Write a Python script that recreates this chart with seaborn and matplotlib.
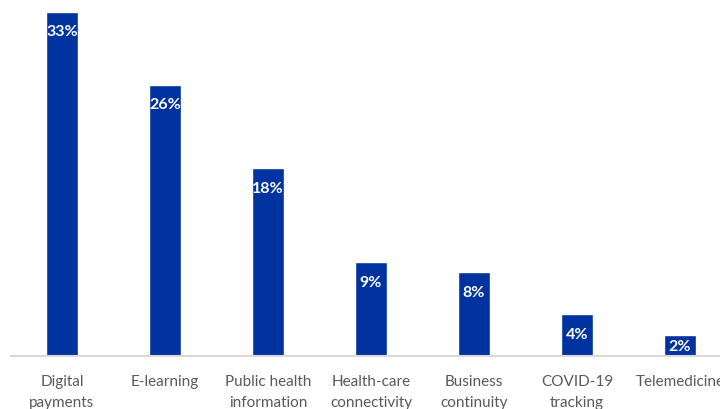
import matplotlib
matplotlib.use("Agg")
import matplotlib.pyplot as plt
import seaborn as sns
import pandas as pd

categories = ["Digital\npayments", "E-learning", "Public health\ninformation",
              "Health-care\nconnectivity", "Business\ncontinuity",
              "COVID-19\ntracking", "Telemedicine"]
shares = [33, 26, 18, 9, 8, 4, 2]

sns.set_theme(style="white")
plt.rcParams["font.family"] = ["Lato", "DejaVu Sans"]

df = pd.DataFrame({"category": categories, "share": shares})

fig = plt.figure(figsize=(7.2, 4.1), dpi=100)
ax = fig.add_axes([10.5 / 720, 53 / 410, 721 / 720, 357 / 410])

sns.barplot(data=df, x="category", y="share", color="#0033A0",
            saturation=1, width=0.31, ax=ax)

ax.set_xlim(-0.5, 6.5)
ax.set_ylim(0, 34.2)

# value labels sit just inside the bar top, or mid-bar for short bars
for i, v in enumerate(shares):
    ax.text(i, max(v - 1.9, v / 2), f"{v}%", ha="center", va="center",
            color="white", fontsize=11.5, fontweight="bold")

ax.set_xlabel("")
ax.set_ylabel("")
ax.set_yticks([])
for side in ["top", "right", "left"]:
    ax.spines[side].set_visible(False)
ax.spines["bottom"].set_color("#D9D9D9")
ax.spines["bottom"].set_linewidth(1.5)
ax.tick_params(axis="x", length=0, pad=13, labelsize=11, labelcolor="#595959")
for lbl in ax.get_xticklabels():
    lbl.set_linespacing(1.6)

fig.savefig("out.png", dpi=100)
